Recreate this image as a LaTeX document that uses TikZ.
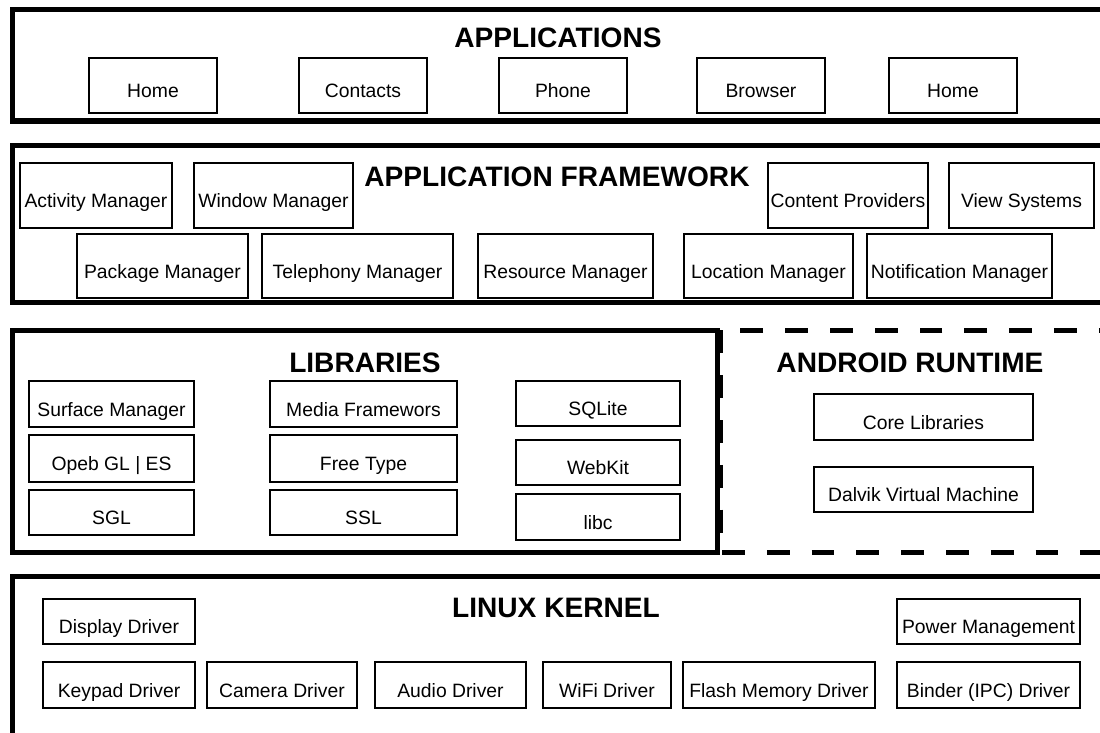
\documentclass[tikz,border=0pt]{standalone}
\usepackage{fontspec}
\setmainfont{Liberation Sans}

\begin{document}
\begin{tikzpicture}[x=0.02cm, y=-0.02cm
        , layer/.style={ draw, line width=2.85pt }
        , runtime/.style={ layer, dash pattern=on 13pt off 12.5pt }
        , comp/.style={ draw, line width=0.6pt, inner sep=1pt
            , font=\fontsize{11}{12}\selectfont, text height=14.1pt, text depth=0pt }
        , title/.style={ anchor=base, font=\fontsize{16}{18}\selectfont\bfseries }
        ]

        \useasboundingbox (0,0) rectangle (1100,733);

        % the five layers
        \draw[layer] (12.5,9.5) rectangle (1102.5,121);
        \draw[layer] (12.5,145.5) rectangle (1102.5,302.5);
        \draw[layer] (12.5,330.5) rectangle (717.5,552.5);
        \draw[runtime] (720,330.5) rectangle (1102,552.5);
        \draw[layer] (12.5,576.5) rectangle (1103,736);

        \node[title] (apps) at (558,48) {APPLICATIONS};
        \node[title] (frame) at (557,187) {APPLICATION FRAMEWORK};
        \node[title] (libs) at (365,373) {LIBRARIES};
        \node[title] (rt) at (910,373) {ANDROID RUNTIME};
        \node[title] (kernel) at (556,618) {LINUX KERNEL};

        % applications
        \foreach \nm/\xa/\xb/\txt in {home/89/217/Home, contacts/299/427/Contacts,
                phone/499/627/Phone, browser/697/825/Browser, homeb/889/1017/Home}
            \node[comp, minimum width={(\xb-\xa)*0.02cm}, minimum height=55*0.02cm]
                (\nm) at ({(\xa+\xb)/2},85.5) {\txt};

        % application framework
        \foreach \nm/\xa/\ya/\xb/\yb/\txt in {
                activity/20/163/172/228/Activity Manager,
                window/194/163/353/228/Window Manager,
                content/768/163/928/228/Content Providers,
                views/949/163/1094/228/View Systems,
                package/77/234/248/298/Package Manager,
                telephony/262/234/453/298/Telephony Manager,
                resource/478/234/653/298/Resource Manager,
                location/684/234/853/298/Location Manager,
                notify/867/234/1052/298/Notification Manager}
            \node[comp, minimum width={(\xb-\xa)*0.02cm}, minimum height={(\yb-\ya)*0.02cm}]
                (\nm) at ({(\xa+\xb)/2},{(\ya+\yb)/2}) {\txt};

        % libraries and runtime
        \foreach \nm/\xa/\ya/\xb/\yb/\txt in {
                surface/29/381/194/427/Surface Manager,
                opengl/29/435/194/482/Opeb GL | ES,
                sgl/29/490/194/535/SGL,
                media/270/381/457/427/Media Framewors,
                freetype/270/435/457/482/Free Type,
                ssl/270/490/457/535/SSL,
                sqlite/516/381/680/426/SQLite,
                webkit/516/440/680/485/WebKit,
                libc/516/494/680/540/libc,
                core/814/394/1033/440/Core Libraries,
                dalvik/814/467/1033/512/Dalvik Virtual Machine}
            \node[comp, minimum width={(\xb-\xa)*0.02cm}, minimum height={(\yb-\ya)*0.02cm}]
                (\nm) at ({(\xa+\xb)/2},{(\ya+\yb)/2}) {\txt};

        % linux kernel
        \foreach \nm/\xa/\ya/\xb/\yb/\txt in {
                display/43/599/195/644/Display Driver,
                power/897/599/1080/644/Power Management,
                keypad/43/662/195/708/Keypad Driver,
                camera/207/662/357/708/Camera Driver,
                audio/375/662/526/708/Audio Driver,
                wifi/543/662/671/708/WiFi Driver,
                flash/683/662/875/708/Flash Memory Driver,
                binder/897/662/1080/708/Binder (IPC) Driver}
            \node[comp, minimum width={(\xb-\xa)*0.02cm}, minimum height={(\yb-\ya)*0.02cm}]
                (\nm) at ({(\xa+\xb)/2},{(\ya+\yb)/2}) {\txt};

    \end{tikzpicture}
\end{document}
